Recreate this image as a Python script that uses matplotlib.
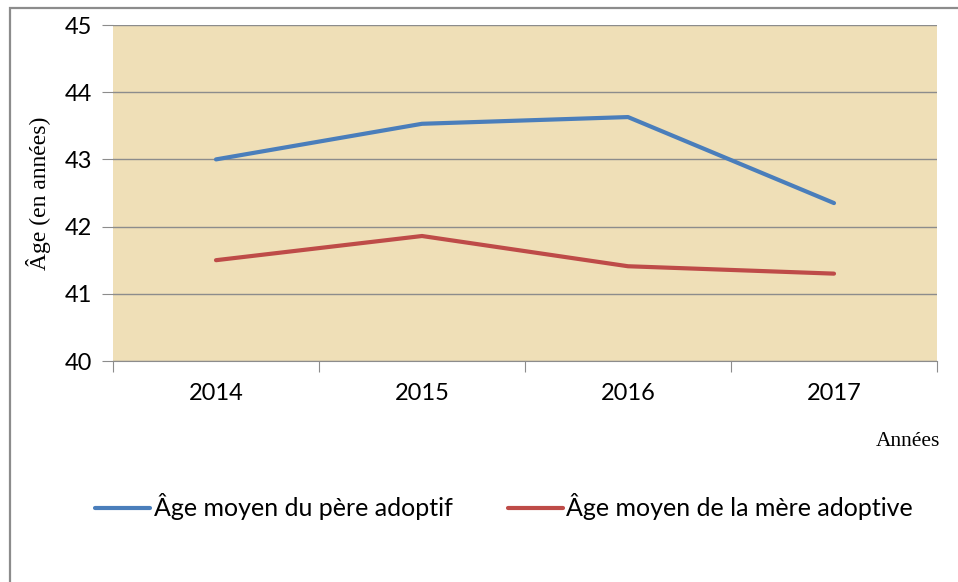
import matplotlib
matplotlib.use("Agg")
import matplotlib.pyplot as plt
from matplotlib.patches import Rectangle

# data
years = ["2014", "2015", "2016", "2017"]
pere = [43.0, 43.53, 43.63, 42.35]
mere = [41.5, 41.86, 41.41, 41.3]
yticks = [40, 41, 42, 43, 44, 45]

blue = "#4A7EBB"
red = "#BE4B48"
sans = ["Lato", "DejaVu Sans"]
serif = ["Liberation Serif", "DejaVu Serif"]

fig = plt.figure(figsize=(9.58, 5.82), dpi=100)
ax = fig.add_axes([113 / 958, 1 - 361 / 582, (937 - 113) / 958, (361 - 25) / 582])

# outer frame (only top and left edges show in the reference)
fig.add_artist(Rectangle((10 / 958, -0.1), 1.2, 1 - 8 / 582 + 0.1, transform=fig.transFigure,
                         fill=False, edgecolor="#8C8C8C", linewidth=1.6))

ax.set_facecolor("#EFDFB7")
x = list(range(len(years)))
ax.plot(x, pere, color=blue, linewidth=3, solid_capstyle="round", label="Âge moyen du père adoptif", zorder=3)
ax.plot(x, mere, color=red, linewidth=3, solid_capstyle="round", label="Âge moyen de la mère adoptive", zorder=3)

ax.set_xlim(-0.5, len(years) - 0.5)
ax.set_ylim(40, 45)
ax.set_yticks(yticks)
ax.set_yticklabels([str(v) for v in yticks], fontsize=17, family=sans)
ax.yaxis.grid(True, color="#8C8C8C", linewidth=1)
ax.set_axisbelow(True)

# category ticks at boundaries, labels centered
ax.set_xticks([i - 0.5 for i in range(len(years) + 1)])
ax.set_xticklabels([])
ax.set_xticks(x, minor=True)
ax.set_xticklabels(years, minor=True, fontsize=17, family=sans)
ax.tick_params(axis="x", which="major", length=8, color="#8C8C8C", direction="out")
ax.tick_params(axis="x", which="minor", length=0, pad=16)
ax.tick_params(axis="y", length=8, color="#8C8C8C", pad=7)

for s in ["top", "right", "left"]:
    ax.spines[s].set_visible(False)
ax.spines["bottom"].set_color("#8C8C8C")

ax.set_ylabel("Âge (en années)", fontsize=17, family=serif, labelpad=10)
fig.text(940 / 958, 1 - 442 / 582, "Années", fontsize=15.5, family=serif, ha="right", va="center")

fig.legend(loc="center", bbox_to_anchor=(504 / 958, 1 - 507 / 582), ncol=2, frameon=False,
           prop={"family": sans, "size": 18}, handlelength=2.2, handletextpad=0.15, columnspacing=2.2)

fig.savefig("out.png", dpi=100)
